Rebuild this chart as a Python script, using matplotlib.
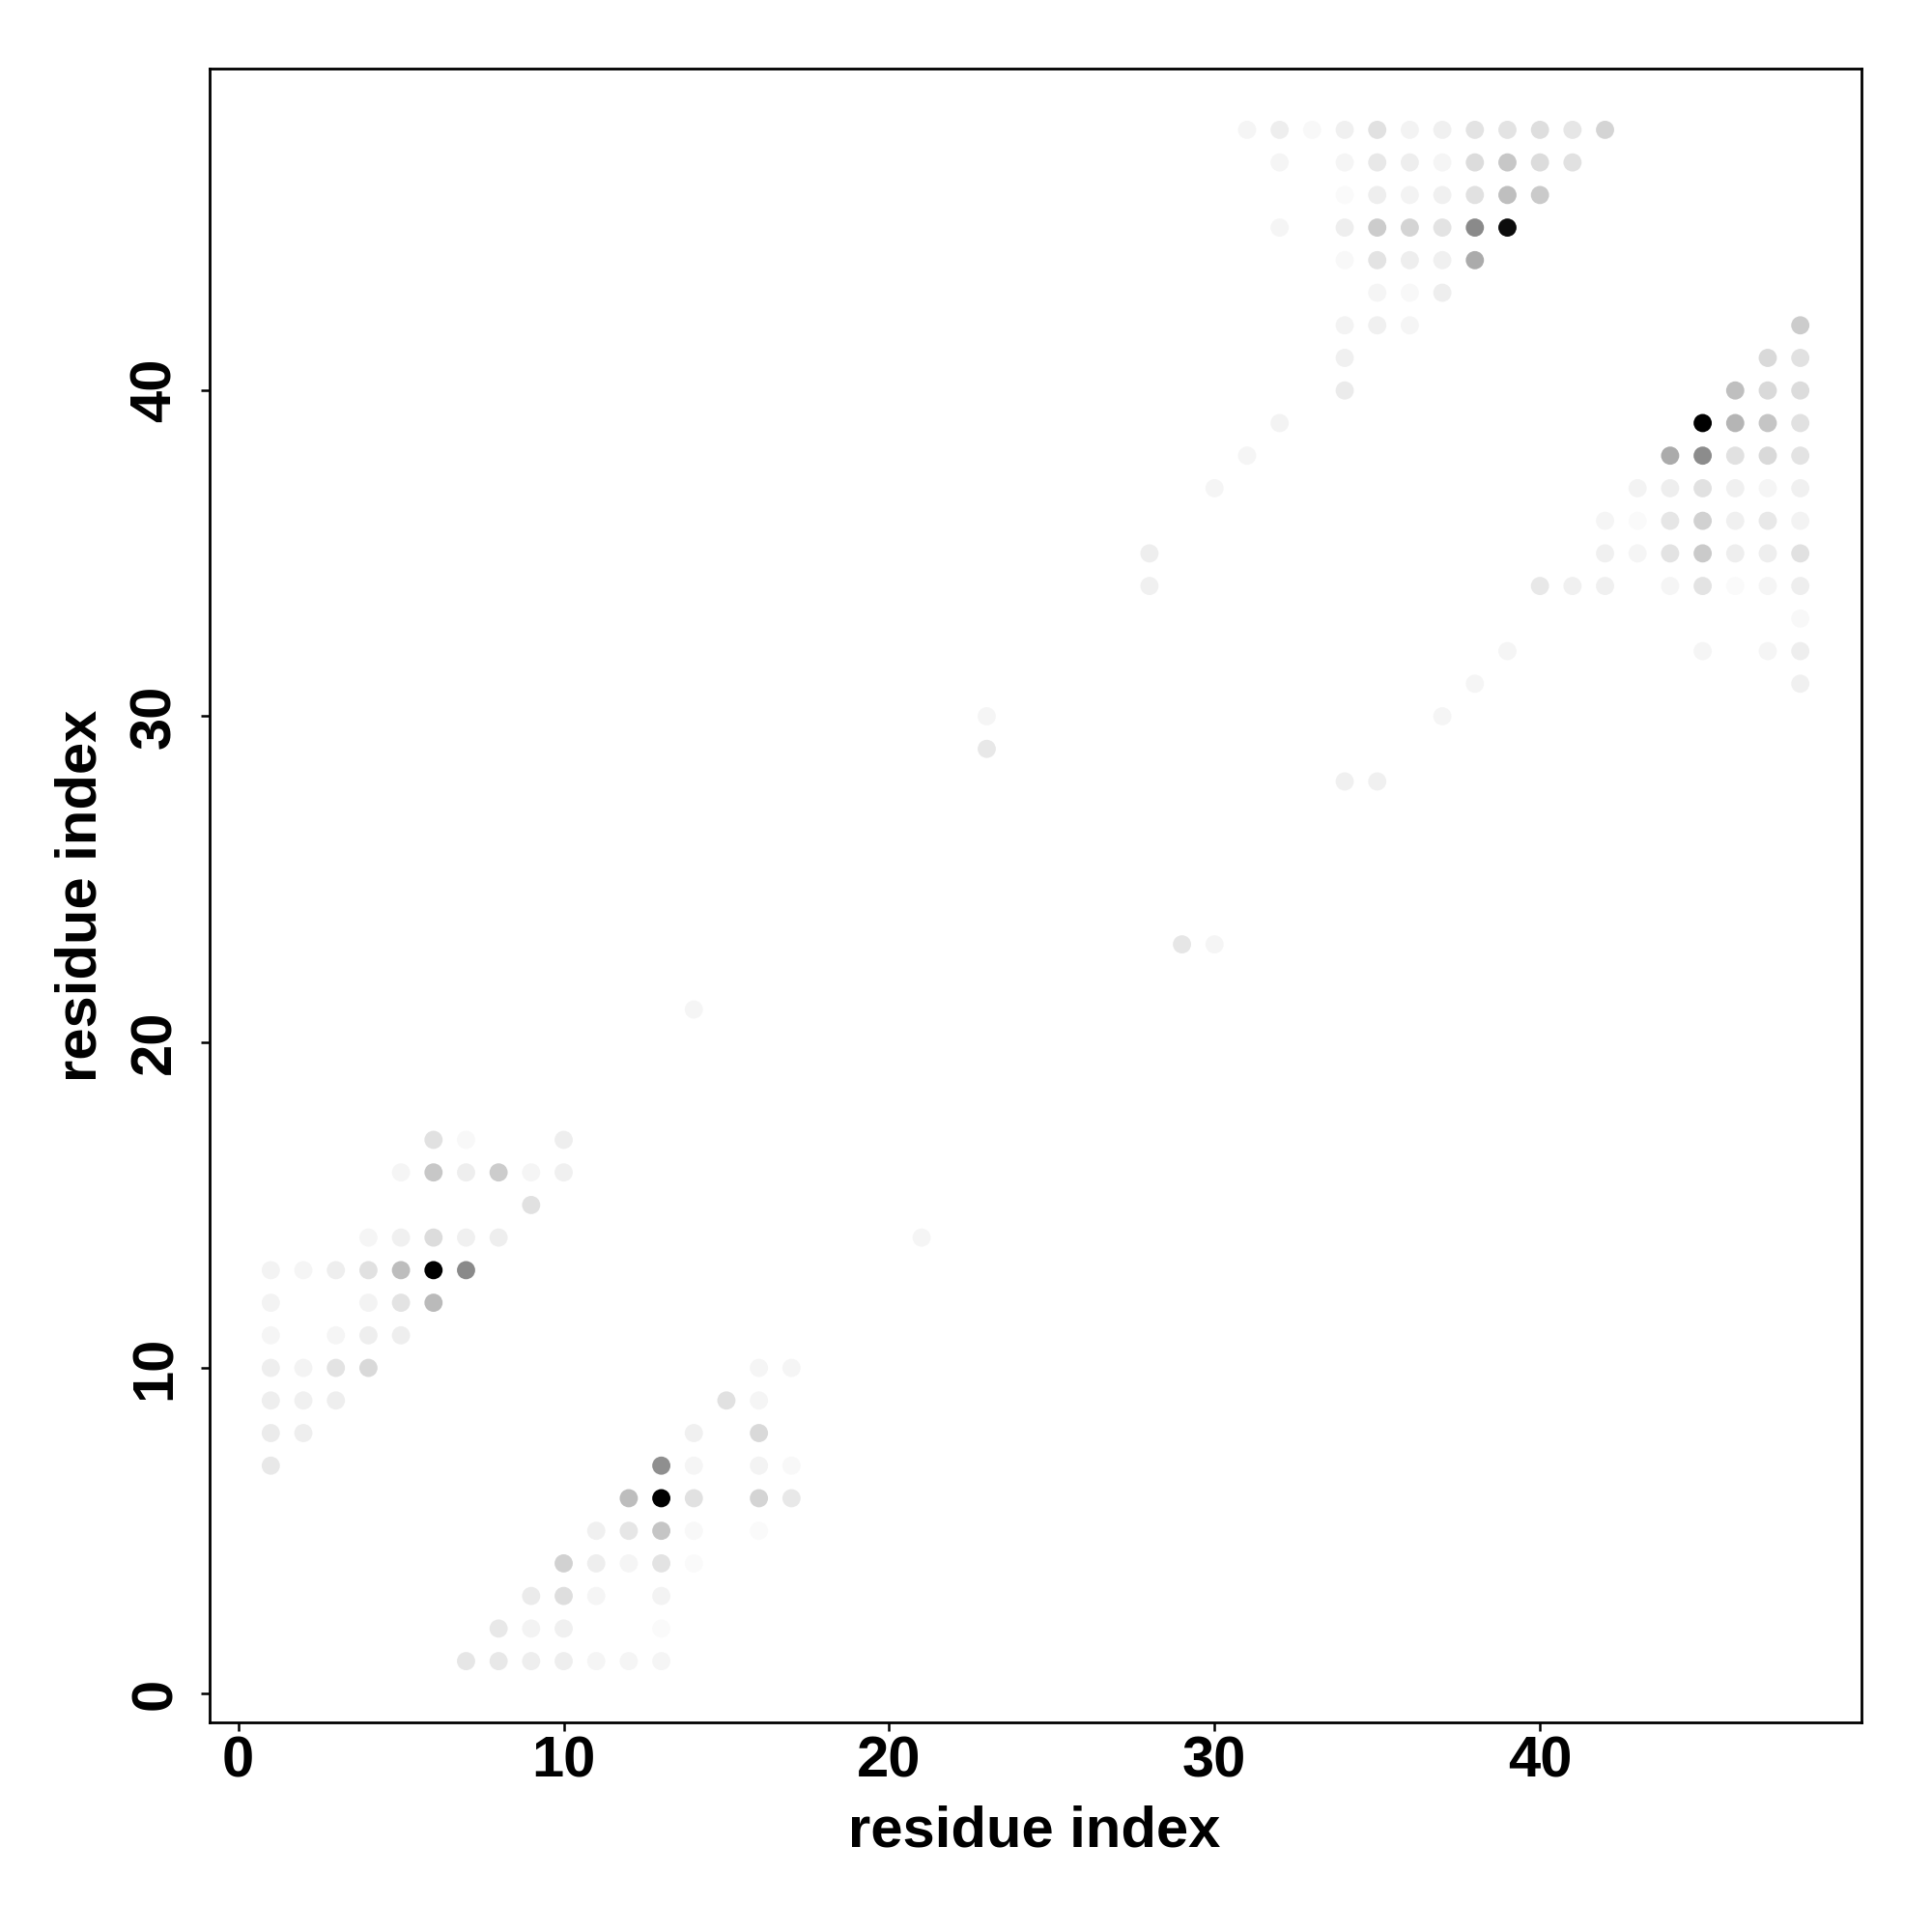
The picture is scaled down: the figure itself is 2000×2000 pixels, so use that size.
import matplotlib
matplotlib.use("Agg")
import matplotlib.pyplot as plt
from matplotlib.colors import LinearSegmentedColormap
import numpy as np

# contact map: residue i, residue j, contact frequency (0..1)
res_i = [
    # lower-left block
    6, 7, 10,
    5, 6, 7, 8, 9, 10,
    9,
    4, 5, 6, 7, 8,
    1, 2, 3, 4, 5, 6, 7,
    1, 4, 5, 6,
    1, 3, 4, 5,
    1, 2, 3, 4,
    1, 2, 3,
    1, 2,
    1,
    # lower block near diagonal
    16, 17,
    15, 16,
    14, 16,
    13, 14, 16, 17,
    12, 13, 14, 16, 17,
    11, 12, 13, 14, 16,
    10, 11, 12, 13, 14,
    9, 10, 11, 13,
    8, 9, 10, 13,
    7, 8, 9, 10, 11, 12, 13,
    # scattered
    14, 21, 23, 23, 29, 30,
    28, 28, 30, 31, 32, 37, 38, 39, 34, 35,
    # upper block
    31, 32, 33, 34, 35, 36, 37, 38, 39, 40, 41, 42,
    32, 34, 35, 36, 37, 38, 39, 40, 41,
    34, 35, 36, 37, 38, 39, 40,
    32, 34, 35, 36, 37, 38, 39,
    34, 35, 36, 37, 38,
    35, 36, 37,
    34, 35, 36,
    34,
    34,
    # right block
    48,
    47, 48,
    46, 47, 48,
    45, 46, 47, 48,
    44, 45, 46, 47, 48,
    43, 44, 45, 46, 47, 48,
    42, 43, 44, 45, 46, 47, 48,
    42, 43, 44, 45, 46, 47, 48,
    40, 41, 42, 44, 45, 46, 47, 48,
    48,
    45, 47, 48,
    48,
]
res_j = [
    17, 17, 17,
    16, 16, 16, 16, 16, 16,
    15,
    14, 14, 14, 14, 14,
    13, 13, 13, 13, 13, 13, 13,
    12, 12, 12, 12,
    11, 11, 11, 11,
    10, 10, 10, 10,
    9, 9, 9,
    8, 8,
    7,
    10, 10,
    9, 9,
    8, 8,
    7, 7, 7, 7,
    6, 6, 6, 6, 6,
    5, 5, 5, 5, 5,
    4, 4, 4, 4, 4,
    3, 3, 3, 3,
    2, 2, 2, 2,
    1, 1, 1, 1, 1, 1, 1,
    21, 14, 30, 29, 23, 23,
    35, 34, 37, 38, 39, 30, 31, 32, 28, 28,
    48, 48, 48, 48, 48, 48, 48, 48, 48, 48, 48, 48,
    47, 47, 47, 47, 47, 47, 47, 47, 47,
    46, 46, 46, 46, 46, 46, 46,
    45, 45, 45, 45, 45, 45, 45,
    44, 44, 44, 44, 44,
    43, 43, 43,
    42, 42, 42,
    41,
    40,
    42,
    41, 41,
    40, 40, 40,
    39, 39, 39, 39,
    38, 38, 38, 38, 38,
    37, 37, 37, 37, 37, 37,
    36, 36, 36, 36, 36, 36, 36,
    35, 35, 35, 35, 35, 35, 35,
    34, 34, 34, 34, 34, 34, 34, 34,
    33,
    32, 32, 32,
    31,
]
freq = [
    0.12, 0.03, 0.07,
    0.04, 0.22, 0.07, 0.20, 0.04, 0.06,
    0.12,
    0.04, 0.06, 0.14, 0.06, 0.07,
    0.05, 0.04, 0.07, 0.12, 0.26, 1.00, 0.46,
    0.05, 0.05, 0.11, 0.27,
    0.04, 0.04, 0.07, 0.07,
    0.07, 0.05, 0.11, 0.15,
    0.07, 0.06, 0.07,
    0.08, 0.07,
    0.09,
    0.04, 0.04,
    0.12, 0.04,
    0.06, 0.15,
    0.44, 0.04, 0.05, 0.03,
    0.26, 1.00, 0.12, 0.17, 0.09,
    0.06, 0.10, 0.23, 0.03, 0.02,
    0.18, 0.07, 0.04, 0.11, 0.02,
    0.08, 0.13, 0.04, 0.05,
    0.09, 0.05, 0.06, 0.02,
    0.10, 0.09, 0.07, 0.07, 0.04, 0.04, 0.04,
    0.04, 0.04, 0.04, 0.09, 0.10, 0.04,
    0.07, 0.06, 0.04, 0.04, 0.05, 0.04, 0.04, 0.04, 0.06, 0.06,
    0.04, 0.07, 0.03, 0.06, 0.12, 0.05, 0.06, 0.11, 0.11, 0.13, 0.10, 0.17,
    0.04, 0.04, 0.09, 0.07, 0.04, 0.14, 0.22, 0.14, 0.12,
    0.02, 0.07, 0.05, 0.06, 0.12, 0.25, 0.21,
    0.04, 0.07, 0.20, 0.17, 0.11, 0.46, 0.95,
    0.03, 0.11, 0.07, 0.06, 0.33,
    0.04, 0.03, 0.07,
    0.05, 0.06, 0.04,
    0.06,
    0.08,
    0.20,
    0.15, 0.12,
    0.25, 0.15, 0.14,
    1.00, 0.29, 0.23, 0.12,
    0.33, 0.45, 0.12, 0.15, 0.11,
    0.05, 0.07, 0.12, 0.06, 0.04, 0.06,
    0.04, 0.02, 0.10, 0.18, 0.06, 0.09, 0.05,
    0.06, 0.04, 0.11, 0.21, 0.07, 0.07, 0.12,
    0.09, 0.06, 0.06, 0.04, 0.11, 0.02, 0.04, 0.07,
    0.03,
    0.04, 0.04, 0.07,
    0.06,
]

x_ticks = [0, 10, 20, 30, 40]
y_ticks = [0, 10, 20, 30, 40]
axis_label = "residue index"

plt.rcParams['font.family'] = ['Liberation Sans', 'DejaVu Sans']
plt.rcParams['font.weight'] = 'bold'

fig = plt.figure(figsize=(10, 10), dpi=200)
ax = fig.add_axes([0.1085, 0.1085, 0.855, 0.856])

cmap = LinearSegmentedColormap.from_list("wb", ["#ffffff", "#000000"])
ax.scatter(res_i, res_j, c=freq, cmap=cmap, vmin=0, vmax=1, s=46, linewidths=0)

lo, hi = min(min(res_i), min(res_j)), max(max(res_i), max(res_j))
pad = 0.04 * (hi - lo)
ax.set_xlim(lo - pad, hi + pad)
ax.set_ylim(lo - pad, hi + pad)

for s in ax.spines.values():
    s.set_linewidth(1.0)
    s.set_color('black')

ax.set_xticks(x_ticks)
ax.set_yticks(y_ticks)
ax.set_xticklabels([str(t) for t in x_ticks], fontsize=21.5, fontweight='bold')
ax.set_yticklabels([str(t) for t in y_ticks], fontsize=21.5, fontweight='bold',
                   rotation=90, va='center', ha='right')
ax.tick_params(axis='x', length=3.2, width=0.9, pad=1.8, direction='out')
ax.tick_params(axis='y', length=3.2, width=0.9, pad=7, direction='out')

fig.text(0.5355, 1 - 1911 / 2000, axis_label, fontsize=21.5, fontweight='bold',
         ha='center', va='baseline')
fig.text(112 / 2000, 0.5365, axis_label, fontsize=21.5, fontweight='bold',
         ha='right', va='center', rotation=90)

fig.savefig("out.png", dpi=200, facecolor='white')
